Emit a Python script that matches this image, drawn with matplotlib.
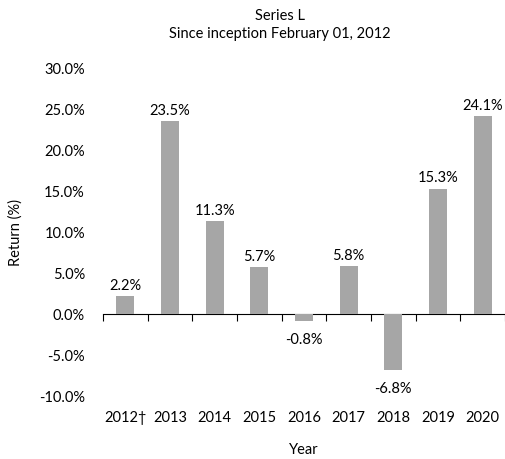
import matplotlib
matplotlib.use("Agg")
import matplotlib.pyplot as plt
import numpy as np
from matplotlib.ticker import FuncFormatter

years = ["2012\u2020", "2013", "2014", "2015", "2016", "2017", "2018", "2019", "2020"]
returns = [2.2, 23.5, 11.3, 5.7, -0.8, 5.8, -6.8, 15.3, 24.1]

ymin, ymax = -10, 30
plt.rcParams['font.family'] = ['Lato', 'DejaVu Sans']
plt.rcParams['font.size'] = 10.5

fig = plt.figure(figsize=(5.05, 4.6), dpi=100)
ax = fig.add_axes([0.204, 0.137, 0.796, 0.713])

x = np.arange(len(years))
ax.bar(x, returns, width=0.4, color='#a6a6a6', zorder=2)

for xi, v in zip(x, returns):
    if v >= 0:
        ax.annotate(f"{v:.1f}%", (xi, v), xytext=(0, 3), textcoords='offset points',
                    ha='center', va='bottom')
    else:
        ax.annotate(f"{v:.1f}%", (xi, v), xytext=(0, -8), textcoords='offset points',
                    ha='center', va='top')

ax.set_xlim(-0.5, len(years) - 0.5)
ax.set_ylim(ymin, ymax)
ax.set_yticks(np.arange(ymin, ymax + 1, 5))
ax.yaxis.set_major_formatter(FuncFormatter(lambda v, pos: f"{v:.1f}%"))
ax.tick_params(axis='y', length=0, pad=13)

ax.set_xticks(x)
ax.set_xticklabels(years)
ax.tick_params(axis='x', length=0, pad=10)

for s in ax.spines.values():
    s.set_visible(False)

# zero line with tick marks between categories
zero_pos = (0 - ymin) / (ymax - ymin)
sec = ax.secondary_xaxis(zero_pos)
sec.set_xticks(np.arange(-0.5, len(years) + 0.5, 1))
sec.set_xticklabels([])
sec.tick_params(axis='x', length=5, width=0.8, color='black', direction='out')
sec.spines['bottom'].set_linewidth(0.8)

ax.set_ylabel("Return (%)", labelpad=12)
ax.set_xlabel("Year", labelpad=13)

fig.text(280 / 505, 1 - 16 / 460, "Series L", ha='center', va='center')
fig.text(280 / 505, 1 - 34 / 460, "Since inception February 01, 2012", ha='center', va='center')

fig.savefig("out.png", dpi=100)
